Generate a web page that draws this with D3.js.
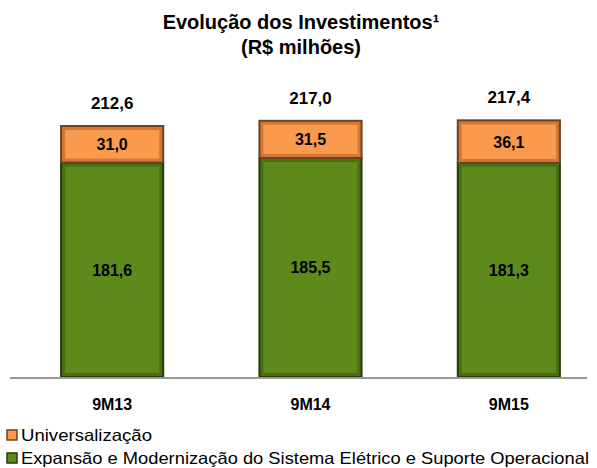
<!DOCTYPE html>
<html lang="pt">
  <head>
    <meta charset="UTF-8" />
    <title>Evolução dos Investimentos</title>
    <script src="https://d3js.org/d3.v7.min.js"></script>
    <style>
      body { margin: 0; background: #fff; }
      svg text { font-family: "Liberation Sans", Arimo, Arial, Helvetica, sans-serif; }
    </style>
  </head>
  <body>
    <svg></svg>
    <script>
      // data
      const periods = ["9M13", "9M14", "9M15"];
      const expansao = [181.6, 185.5, 181.3];
      const universal = [31.0, 31.5, 36.1];
      const totals = [212.6, 217.0, 217.4];
      const totalLabels = ["212,6", "217,0", "217,4"];
      const seriesNames = [
        "Universalização",
        "Expansão e Modernização do Sistema Elétrico e Suporte Operacional",
      ];

      const width = 597,
        height = 468;
      const svg = d3.select("svg").attr("width", width).attr("height", height);

      const x = d3.scaleBand().domain(periods).range([13, 608]).paddingInner(0.485).paddingOuter(0.2425);
      const y = d3.scaleLinear().domain([0, 212.6]).range([377, 126]);

      const fmt = (v) => d3.format(".1f")(v).replace(".", ",");

      // title
      const title = svg.append("text").attr("text-anchor", "middle")
        .attr("font-weight", "bold").attr("font-size", 20).attr("fill", "#000");
      title.append("tspan").attr("x", 301).attr("y", 29).text("Evolução dos Investimentos¹");
      title.append("tspan").attr("x", 301).attr("y", 54).text("(R$ milhões)");

      const styles = {
        exp: { outline: "#2a3a0e", bevel: "#4b6e15", main: "#5e8a1b" },
        uni: { outline: "#6b4322", bevel: "#d27832", main: "#fa9a4e" },
      };

      function bevelRect(g, x0, y0, w, h, s) {
        g.append("rect").attr("x", x0).attr("y", y0).attr("width", w).attr("height", h)
          .attr("fill", s.bevel).attr("stroke", s.outline).attr("stroke-width", 2);
        g.append("rect").attr("x", x0 + 4).attr("y", y0 + 4)
          .attr("width", Math.max(0, w - 8)).attr("height", Math.max(0, h - 8))
          .attr("fill", s.main);
      }

      const bars = svg.append("g");
      periods.forEach((p, i) => {
        const x0 = x(p), w = x.bandwidth();
        const g = bars.append("g");
        bevelRect(g, x0, y(expansao[i]), w, y(0) - y(expansao[i]), styles.exp);
        const top = expansao[i] + universal[i];
        bevelRect(g, x0, y(top), w, y(expansao[i]) - y(top), styles.uni);

        g.append("text").attr("x", x0 + w / 2).attr("y", (y(0) + y(expansao[i])) / 2 + 6)
          .attr("text-anchor", "middle").attr("font-weight", "bold").attr("font-size", 16)
          .text(fmt(expansao[i]));
        g.append("text").attr("x", x0 + w / 2).attr("y", (y(expansao[i]) + y(top)) / 2 + 6)
          .attr("text-anchor", "middle").attr("font-weight", "bold").attr("font-size", 16)
          .text(fmt(universal[i]));
        g.append("text").attr("x", x0 + w / 2).attr("y", y(totals[i]) - 17)
          .attr("text-anchor", "middle").attr("font-weight", "bold").attr("font-size", 17)
          .text(totalLabels[i]);
      });

      // axis line
      svg.append("line").attr("x1", 10).attr("x2", 587).attr("y1", 378).attr("y2", 378)
        .attr("stroke", "#999").attr("stroke-width", 2);

      svg.append("g").selectAll("text").data(periods).join("text")
        .attr("x", (d) => x(d) + x.bandwidth() / 2).attr("y", 410)
        .attr("text-anchor", "middle").attr("font-weight", "bold").attr("font-size", 16)
        .text((d) => d);

      // legend
      const legend = svg.append("g");
      const legStyles = [styles.uni, styles.exp];
      seriesNames.forEach((name, i) => {
        const ly = 435 + i * 23;
        legend.append("rect").attr("x", 7).attr("y", ly - 5).attr("width", 10).attr("height", 10)
          .attr("fill", legStyles[i].main).attr("stroke", legStyles[i].outline).attr("stroke-width", 1.5);
        const t = legend.append("text").attr("x", 21).attr("y", ly + 5.5).attr("font-size", 16.5)
          .attr("fill", "#000").text(name);
        if (i === 1) t.attr("textLength", 568).attr("lengthAdjust", "spacingAndGlyphs");
        if (i === 0) t.attr("textLength", 131).attr("lengthAdjust", "spacingAndGlyphs");
      });
    </script>
  </body>
</html>
